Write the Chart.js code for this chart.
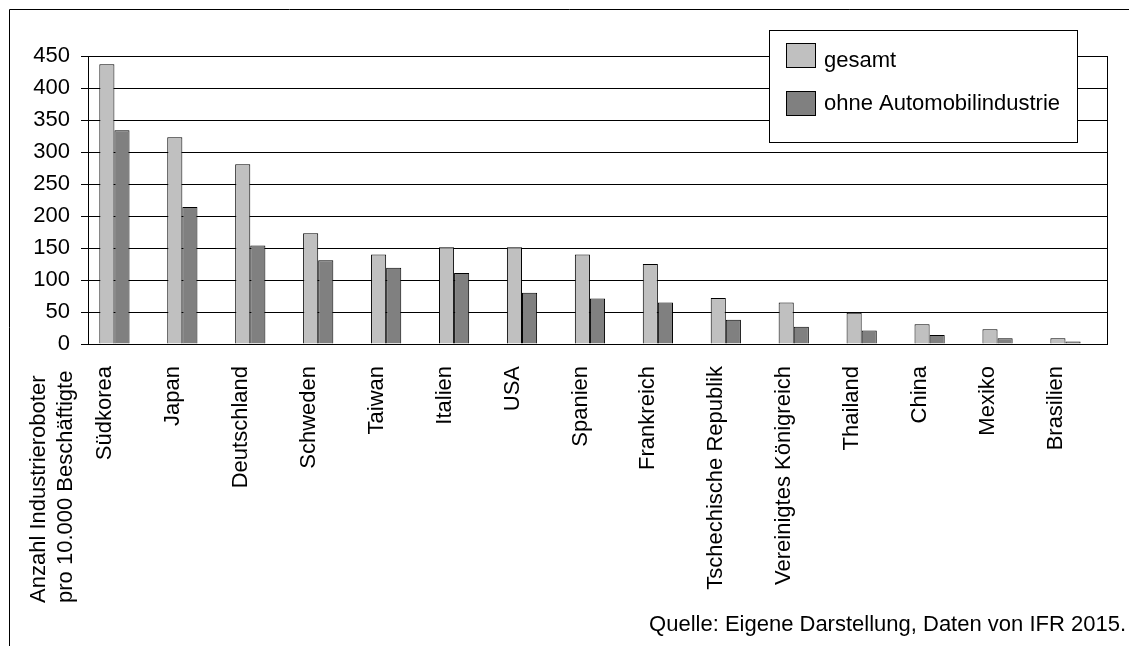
<!DOCTYPE html>
<html>
<head>
<meta charset="utf-8">
<title>Industrieroboter pro 10.000 Beschäftigte</title>
<script src="https://cdn.jsdelivr.net/npm/chart.js@4/dist/chart.umd.min.js"></script>
<style>
  html, body { margin: 0; padding: 0; background: #fff; }
  #chartBox { width: 1129px; height: 646px; position: relative; }
</style>
</head>
<body>
<div id="chartBox"><canvas id="robotChart"></canvas></div>
<script>
// Daten
var laender = ["Südkorea", "Japan", "Deutschland", "Schweden", "Taiwan", "Italien", "USA", "Spanien",
    "Frankreich", "Tschechische Republik", "Vereinigtes Königreich", "Thailand", "China", "Mexiko", "Brasilien"];
var gesamtWerte = [437, 323, 281, 173, 140, 151, 151, 140, 125, 72, 65, 49, 31, 23, 9];
var ohneAutoWerte = [334, 214, 154, 131, 119, 111, 80, 71, 65, 38, 27, 21, 14, 9, 4];
var yTicks = [0, 50, 100, 150, 200, 250, 300, 350, 400, 450];
var serienNamen = ["gesamt", "ohne Automobilindustrie"];
var serienFarben = ["#c0c0c0", "#808080"];
var achsenTitel = ["Anzahl Industrieroboter", "pro 10.000 Beschäftigte"];
var quelle = "Quelle: Eigene Darstellung, Daten von IFR 2015.";

var schrift = "'Liberation Sans', Arial, sans-serif";
Chart.defaults.font.family = schrift;
Chart.defaults.font.size = 22;
Chart.defaults.color = "#000";

// Rahmen, Achsentitel, Legende und Quelle selbst zeichnen
var extrasPlugin = {
    id: "extras",
    beforeDraw: function (chart) {
        var ctx = chart.ctx;
        ctx.save();
        ctx.fillStyle = "#fff";
        ctx.fillRect(0, 0, chart.width, chart.height);
        ctx.strokeStyle = "#000";
        ctx.lineWidth = 1;
        ctx.beginPath();
        ctx.moveTo(9.5, chart.height);
        ctx.lineTo(9.5, 9.5);
        ctx.lineTo(chart.width, 9.5);
        ctx.stroke();
        ctx.restore();
    },
    afterDraw: function (chart) {
        var ctx = chart.ctx;
        ctx.save();
        ctx.fillStyle = "#000";
        ctx.font = "22px " + schrift;

        // y-Achsentitel, gedreht, unten links
        ctx.textAlign = "left";
        ctx.textBaseline = "alphabetic";
        [45, 72].forEach(function (bx, i) {
            ctx.save();
            ctx.translate(bx, 603);
            ctx.rotate(-Math.PI / 2);
            ctx.fillText(achsenTitel[i], 0, 0);
            ctx.restore();
        });

        // Quelle
        ctx.textAlign = "right";
        ctx.fillText(quelle, 1126, 631);

        // Legende mit Rahmen
        ctx.fillStyle = "#fff";
        ctx.fillRect(769, 30, 308, 112);
        ctx.strokeStyle = "#000";
        ctx.lineWidth = 1;
        ctx.strokeRect(769.5, 30.5, 308, 112);
        var zeilen = [[43, 67], [91, 110]];
        chart.data.datasets.forEach(function (ds, i) {
            if (!ds.label) return;
            ctx.fillStyle = ds.backgroundColor;
            ctx.fillRect(786, zeilen[i][0], 29, 24);
            ctx.strokeRect(786.5, zeilen[i][0] + 0.5, 29, 24);
            ctx.fillStyle = "#000";
            ctx.textAlign = "left";
            ctx.fillText(ds.label, 824, zeilen[i][1]);
        });
        ctx.restore();
    }
};

var ctx = document.getElementById("robotChart").getContext("2d");
var robotChart = new Chart(ctx, {
    type: "bar",
    data: {
        labels: laender,
        datasets: [
            { label: serienNamen[0], data: gesamtWerte, backgroundColor: serienFarben[0],
              borderColor: "#000", borderWidth: 1 },
            { label: serienNamen[1], data: ohneAutoWerte, backgroundColor: serienFarben[1],
              borderColor: "#000", borderWidth: 1 },
            // leere dritte Reihe wie im Original, schiebt die Balken nach links
            { label: "", data: [], backgroundColor: "rgba(0,0,0,0)" }
        ]
    },
    options: {
        responsive: true,
        maintainAspectRatio: false,
        animation: false,
        categoryPercentage: 0.667,
        barPercentage: 1.0,
        layout: { padding: { left: 0, top: 56, right: 22, bottom: 0 } },
        plugins: {
            legend: { display: false },
            tooltip: { enabled: false }
        },
        scales: {
            x: {
                grid: { display: false },
                border: { color: "#000", width: 1 },
                ticks: { autoSkip: false, minRotation: 90, maxRotation: 90, padding: 14, labelOffset: -17 },
                afterFit: function (scale) { scale.height = 302; }
            },
            y: {
                min: yTicks[0],
                max: yTicks[yTicks.length - 1],
                ticks: { stepSize: yTicks[1] - yTicks[0], padding: 11 },
                grid: { color: "#000", lineWidth: 1, tickLength: 7 },
                border: { color: "#000", width: 1 },
                afterFit: function (scale) { scale.width = 88; }
            },
            y2: {
                position: "right",
                ticks: { display: false },
                grid: { drawOnChartArea: false, drawTicks: false },
                border: { color: "#000", width: 1 },
                afterFit: function (scale) { scale.width = 0; }
            }
        }
    },
    plugins: [extrasPlugin]
});
</script>
</body>
</html>
